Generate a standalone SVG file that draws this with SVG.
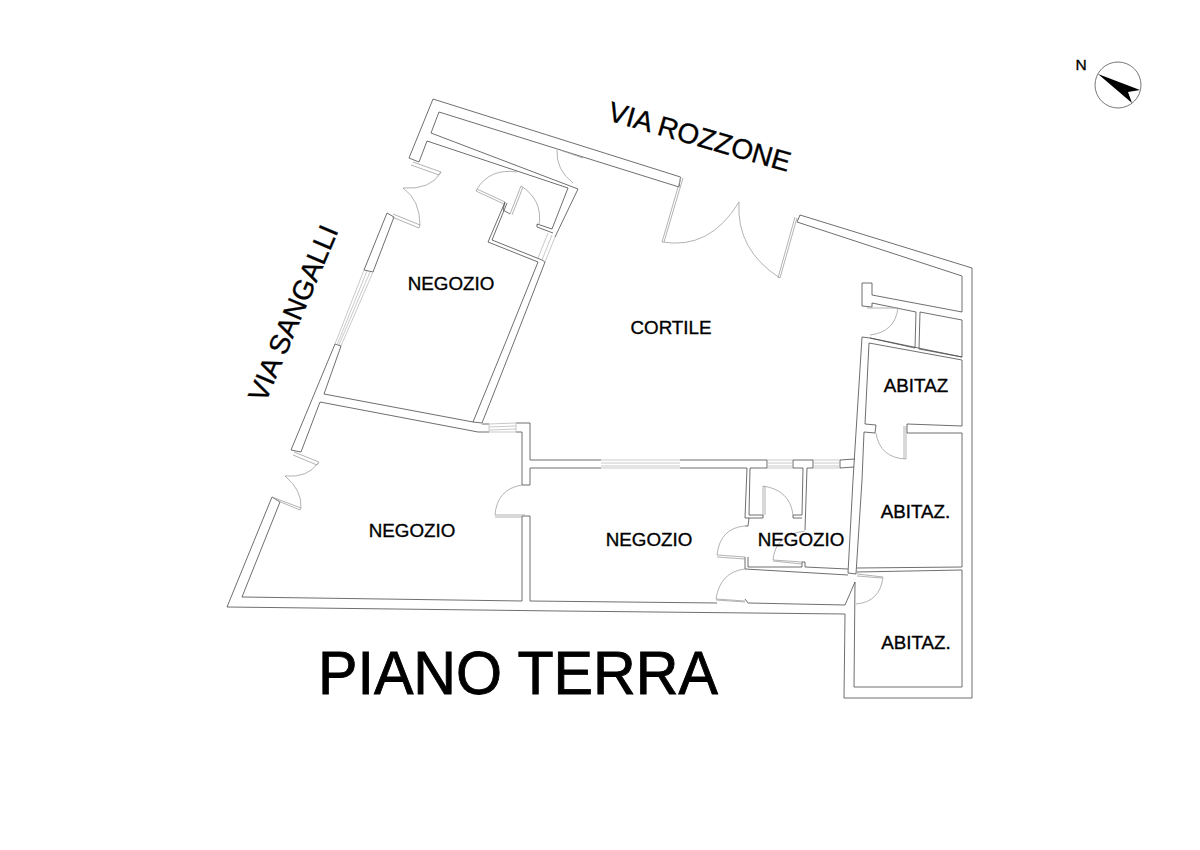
<svg xmlns="http://www.w3.org/2000/svg" width="1200" height="850" viewBox="0 0 1200 850">
<style>
.w{fill:none;stroke:#4a4a4a;stroke-width:.8}
.d{fill:none;stroke:#a0a0a0;stroke-width:.8}
.g{fill:none;stroke:#bbb;stroke-width:.8}
.t{font-family:"Liberation Sans",Arial,sans-serif;fill:#000;text-anchor:middle;stroke:#000;stroke-width:.35}
</style>
<rect width="1200" height="850" fill="#fff"/>
<g id="walls">
<path class="w" d="M680.5 177 L433 99 L409 158 L419 162 L427 141 L568 188 L552 229 L537 224 L537 227 L553 233"/>
<path class="w" d="M439 112 L431 133 L578 189 L555 237"/>
<path class="w" d="M439 112 L679 187 L680.5 177"/>
<path class="w" d="M545 262 Q515 340 482 423 L473 422 L324 394 L341 346"/>
<path class="w" d="M538 262 Q506 342 473 422"/>
<path class="w" d="M373 272 L394 217 L387 213 L364 270 M335 344 L291 450 L301 452 L320 402 L478 432 L489 432 M373 272 L364 270 M341 346 L335 344"/>
<path class="w" d="M482 424 L489 424 M516 423 L530 423 L530 460 L601 460 M516 432 L522 432 L522 485 L530 485 L530 468 L601 468"/>
<path class="w" d="M272 497 L227 607 L560 611 L845 614 L844 698 L972 698 L972 268 L800 215 L797 222 L962 276 L962 312 L872 295 L872 283 L862 283 L862 306 L872 307 L872 303 L916 312 L915 348 L870 338 L862 337 L853 480 L848 573 L856 574 L862 480 L864 432 L875 433 L876 425 L865 424 L869 343 L962 360 L962 426 L907 424 L907 433 L962 433 L962 567 L857 568"/>
<path class="w" d="M272 497 L280 502 L242 597 L522 601 L522 516 L530 516 L530 601 L717 603 M745 599 L748 603 L845 605 L855 582 L854 687 L962 687 L962 570 L857 572"/>
<path class="w" d="M920 312 L962 320 L962 357 L919 349 L920 312 M870 338 L962 357"/>
<path class="w" d="M680 460 L767 460 M793 460 L813 460 M840 460 L855 459 M680 468 L747 468 L745 518 L749 518 L748 526 L745 526 M750 468 L749 515 L763 515 L763 518 L749 518 M767 460 L767 468 L750 468 M793 460 L793 468 L803 468 L802 515 L793 515 L793 518 L802 518 M807 468 L805 530 M807 468 L813 468 L813 460 M840 460 L840 468 L854 467"/>
<path class="w" d="M745 557 L745 569 L848 575 M748 557 L748 567 L802 567 L802 562 L805 562 L805 567 L848 569"/>
<path class="w" d="M505 202 L488 242 L538 262 M507 203 L492 240 L542 260 L545 262 M503 210 L510 214 M505 202 L503 210"/>
</g>
<g id="windows">
<path class="g" d="M364 270 L335 344 M367 271 L337 345 M370 272 L339 345 M373 272 L341 346"/>
<path class="g" d="M555 237 L545 262 M552 235 L542 260 M548 233 L538 258"/>
<path class="g" d="M489 424 L516 423 M489 427 L516 426 M489 430 L516 429 M489 432 L516 432 M489 424 L489 432 M516 423 L516 432"/>
<path class="g" d="M601 460 L680 460 M601 463 L680 463 M601 466 L680 466 M601 468 L680 468"/>
<path class="g" d="M767 460 L793 460 M767 463 L793 463 M767 466 L793 466 M767 468 L793 468"/>
<path class="g" d="M813 460 L840 460 M813 463 L840 463 M813 466 L840 466 M813 468 L840 468"/>
</g>
<g id="doors">
<path class="d" d="M413 162 L441 172 L439 175 L411 165 M441 172 Q431 190 403 188 Q420 200 420 225 L393 214 M420 225 L419 228 L392 217"/>
<path class="d" d="M294 452 L319 462 L317 465 L293 455 M318 463 Q308 478 285 476 Q302 490 301 508 L272 497 M301 508 L300 510 L276 500"/>
<path class="d" d="M517 172 Q490 168 477 189 L505 202 M477 189 L476 191 L504 204"/>
<path class="d" d="M510 214 L521 186 M512 215 L523 187 M521 186 Q543 200 539 225"/>
<path class="d" d="M557 150 Q556 170 573 183 M560 150 L583 158"/>
<path class="d" d="M681 177 L662 242 M683 178 L664 242 M662 242 Q710 250 739 202 Q736 250 780 278 L797 218 M778 278 L795 217"/>
<path class="d" d="M495 515 L525 515 M495 517 L522 517 M495 515 Q497 489 522 485"/>
<path class="d" d="M867 308 L898 308 M898 308 Q895 332 870 335"/>
<path class="d" d="M906 426 L906 459 M904 426 L904 459 M906 459 Q880 458 876 433"/>
<path class="d" d="M857 574 L883 577 M857 576 L882 578 M883 577 Q880 602 856 604"/>
<path class="d" d="M763 486 L763 518 M765 486 L765 515 M763 486 Q790 490 793 515"/>
<path class="d" d="M745 526 Q720 528 717 555 L745 557 M717 557 L745 559"/>
<path class="d" d="M773 560 L802 562 M773 561 L802 564 M773 560 Q775 535 805 531"/>
<path class="d" d="M745 569 Q720 572 716 599 L745 601 M716 600 L745 602"/>
</g>
<g id="labels">
<text class="t" x="451" y="290" font-size="18.8">NEGOZIO</text>
<text class="t" x="412" y="537" font-size="18.8">NEGOZIO</text>
<text class="t" x="649" y="546" font-size="18.8">NEGOZIO</text>
<text class="t" x="801" y="546" font-size="18.8">NEGOZIO</text>
<text class="t" x="671" y="334" font-size="18.8">CORTILE</text>
<text class="t" x="916" y="392" font-size="18.8">ABITAZ</text>
<text class="t" x="915.5" y="518" font-size="18.8">ABITAZ.</text>
<text class="t" x="916" y="649" font-size="18.8">ABITAZ.</text>
<text class="t" x="518" y="694" font-size="62" textLength="400" lengthAdjust="spacingAndGlyphs" style="stroke-width:.9">PIANO TERRA</text>
<text class="t" font-size="28" transform="translate(697 146) rotate(16)">VIA ROZZONE</text>
<text class="t" font-size="28" transform="translate(302 317) rotate(-67)">VIA SANGALLI</text>
<text class="t" x="1081" y="70" font-size="15.5">N</text>
</g>
<g id="compass">
<circle cx="1118" cy="85" r="23" fill="none" stroke="#555" stroke-width=".8"/>
<path d="M1098 74 L1140 90 L1128 92 L1132 103 Z" fill="#000"/>
</g>
</svg>
